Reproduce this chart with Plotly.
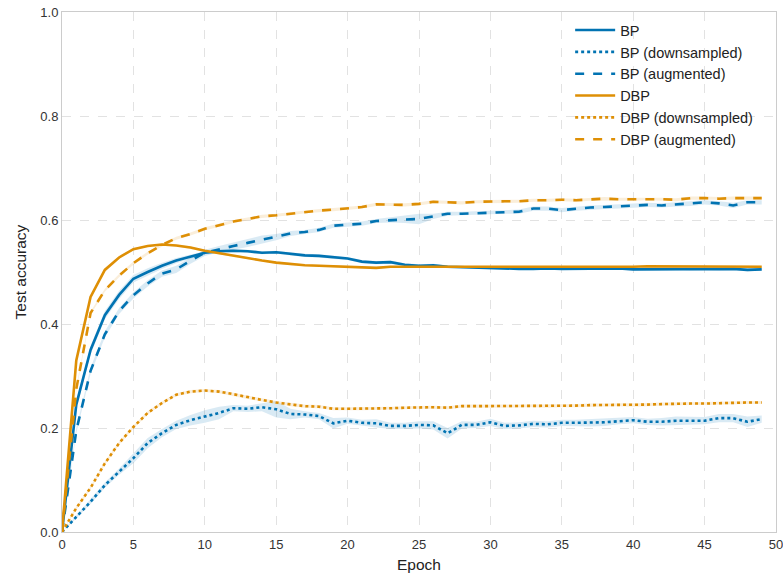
import plotly.graph_objects as go

epochs = list(range(50))

bp = [0.0, 0.245, 0.35, 0.417, 0.456, 0.487, 0.500, 0.512, 0.522, 0.530,
      0.537, 0.540, 0.541, 0.540, 0.537, 0.538, 0.535, 0.532, 0.531, 0.528,
      0.526, 0.520, 0.518, 0.519, 0.514, 0.512, 0.513, 0.510, 0.509, 0.509,
      0.508, 0.507, 0.506, 0.506, 0.507, 0.506, 0.506, 0.507, 0.506, 0.507,
      0.505, 0.505, 0.506, 0.506, 0.505, 0.506, 0.505, 0.506, 0.504, 0.505]
bp_std = [0.0, 0.008, 0.008, 0.008, 0.008, 0.007, 0.007, 0.006, 0.005, 0.004,
          0.003, 0.003, 0.003, 0.003, 0.003, 0.003, 0.003, 0.003, 0.003, 0.003,
          0.003, 0.003, 0.003, 0.003, 0.003, 0.003, 0.003, 0.003, 0.002, 0.002,
          0.002, 0.002, 0.002, 0.002, 0.002, 0.002, 0.002, 0.002, 0.002, 0.002,
          0.002, 0.002, 0.002, 0.002, 0.002, 0.002, 0.002, 0.002, 0.003, 0.002]

bp_down = [0.0, 0.029, 0.058, 0.090, 0.116, 0.142, 0.171, 0.190, 0.206, 0.215,
           0.222, 0.229, 0.238, 0.237, 0.240, 0.236, 0.227, 0.226, 0.223, 0.209,
           0.214, 0.210, 0.209, 0.204, 0.204, 0.206, 0.205, 0.190, 0.206, 0.206,
           0.211, 0.204, 0.205, 0.208, 0.207, 0.210, 0.210, 0.210, 0.211, 0.213,
           0.215, 0.212, 0.212, 0.214, 0.214, 0.214, 0.219, 0.219, 0.212, 0.217]
bp_down_std = [0.0, 0.003, 0.004, 0.005, 0.006, 0.010, 0.010, 0.008, 0.008, 0.010,
               0.012, 0.012, 0.006, 0.006, 0.008, 0.016, 0.010, 0.006, 0.006, 0.010,
               0.006, 0.006, 0.008, 0.006, 0.006, 0.007, 0.008, 0.010, 0.007, 0.006,
               0.007, 0.006, 0.006, 0.006, 0.006, 0.006, 0.006, 0.007, 0.007, 0.006,
               0.006, 0.006, 0.007, 0.008, 0.008, 0.007, 0.008, 0.008, 0.010, 0.007]

bp_aug = [0.0, 0.195, 0.31, 0.38, 0.425, 0.455, 0.478, 0.497, 0.505, 0.522,
          0.537, 0.544, 0.550, 0.556, 0.562, 0.567, 0.574, 0.577, 0.581, 0.589,
          0.591, 0.593, 0.598, 0.600, 0.601, 0.602, 0.607, 0.612, 0.612, 0.613,
          0.615, 0.616, 0.616, 0.622, 0.622, 0.619, 0.622, 0.624, 0.625, 0.626,
          0.627, 0.629, 0.628, 0.630, 0.631, 0.634, 0.632, 0.628, 0.634, 0.634]
bp_aug_std = [0.0, 0.005, 0.006, 0.006, 0.006, 0.006, 0.006, 0.006, 0.007, 0.006,
              0.006, 0.006, 0.007, 0.008, 0.008, 0.006, 0.005, 0.004, 0.004, 0.004,
              0.004, 0.004, 0.004, 0.005, 0.007, 0.010, 0.005, 0.004, 0.004, 0.004,
              0.004, 0.004, 0.004, 0.004, 0.004, 0.004, 0.004, 0.004, 0.004, 0.004,
              0.004, 0.004, 0.004, 0.004, 0.004, 0.004, 0.004, 0.005, 0.004, 0.004]

dbp = [0.0, 0.33, 0.452, 0.504, 0.528, 0.544, 0.550, 0.553, 0.551, 0.547,
       0.541, 0.536, 0.531, 0.526, 0.522, 0.518, 0.515, 0.513, 0.512, 0.511,
       0.510, 0.509, 0.508, 0.510, 0.510, 0.509, 0.510, 0.510, 0.509, 0.510,
       0.510, 0.509, 0.509, 0.510, 0.510, 0.510, 0.510, 0.510, 0.510, 0.510,
       0.510, 0.511, 0.511, 0.510, 0.511, 0.511, 0.510, 0.511, 0.510, 0.510]
dbp_std = [0.0, 0.004, 0.003, 0.003, 0.003, 0.002, 0.002, 0.002, 0.002, 0.002,
           0.002, 0.002, 0.002, 0.002, 0.002, 0.002, 0.002, 0.002, 0.002, 0.002,
           0.002, 0.002, 0.002, 0.002, 0.002, 0.002, 0.002, 0.002, 0.002, 0.002,
           0.002, 0.002, 0.002, 0.002, 0.002, 0.002, 0.002, 0.002, 0.002, 0.002,
           0.002, 0.002, 0.002, 0.002, 0.002, 0.002, 0.002, 0.002, 0.002, 0.002]

dbp_down = [0.0, 0.046, 0.085, 0.132, 0.171, 0.202, 0.229, 0.248, 0.264, 0.270,
            0.272, 0.270, 0.265, 0.259, 0.254, 0.249, 0.245, 0.242, 0.241, 0.237,
            0.237, 0.237, 0.237, 0.238, 0.239, 0.240, 0.240, 0.239, 0.242, 0.242,
            0.242, 0.242, 0.242, 0.243, 0.242, 0.243, 0.243, 0.244, 0.244, 0.245,
            0.244, 0.245, 0.246, 0.247, 0.247, 0.247, 0.248, 0.248, 0.249, 0.249]
dbp_down_std = [0.0, 0.003, 0.003, 0.003, 0.003, 0.003, 0.003, 0.003, 0.003, 0.003,
                0.003, 0.003, 0.003, 0.003, 0.003, 0.003, 0.003, 0.003, 0.003, 0.003,
                0.003, 0.003, 0.003, 0.003, 0.003, 0.003, 0.003, 0.003, 0.003, 0.003,
                0.003, 0.003, 0.003, 0.003, 0.003, 0.003, 0.003, 0.003, 0.003, 0.003,
                0.003, 0.003, 0.003, 0.003, 0.003, 0.003, 0.003, 0.003, 0.003, 0.003]

dbp_aug = [0.0, 0.275, 0.421, 0.465, 0.493, 0.517, 0.536, 0.552, 0.565, 0.573,
           0.583, 0.590, 0.597, 0.602, 0.607, 0.609, 0.612, 0.616, 0.618, 0.620,
           0.622, 0.625, 0.630, 0.630, 0.629, 0.631, 0.635, 0.634, 0.633, 0.635,
           0.636, 0.636, 0.636, 0.638, 0.638, 0.639, 0.638, 0.640, 0.641, 0.640,
           0.640, 0.641, 0.640, 0.639, 0.642, 0.642, 0.641, 0.642, 0.642, 0.642]
dbp_aug_std = [0.0, 0.004, 0.003, 0.003, 0.003, 0.003, 0.003, 0.003, 0.003, 0.003,
               0.003, 0.003, 0.003, 0.003, 0.003, 0.003, 0.003, 0.003, 0.003, 0.003,
               0.003, 0.003, 0.003, 0.003, 0.003, 0.003, 0.003, 0.003, 0.003, 0.003,
               0.003, 0.003, 0.003, 0.003, 0.003, 0.003, 0.003, 0.003, 0.003, 0.003,
               0.003, 0.003, 0.003, 0.003, 0.003, 0.003, 0.003, 0.003, 0.003, 0.003]

BLUE = "#0173B2"
ORANGE = "#DE8F05"
BLUE_FILL = "rgba(1,115,178,0.15)"
ORANGE_FILL = "rgba(222,143,5,0.15)"

series = [
    ("BP", bp, bp_std, BLUE, BLUE_FILL, "solid"),
    ("BP (downsampled)", bp_down, bp_down_std, BLUE, BLUE_FILL, "dot"),
    ("BP (augmented)", bp_aug, bp_aug_std, BLUE, BLUE_FILL, "dash"),
    ("DBP", dbp, dbp_std, ORANGE, ORANGE_FILL, "solid"),
    ("DBP (downsampled)", dbp_down, dbp_down_std, ORANGE, ORANGE_FILL, "dot"),
    ("DBP (augmented)", dbp_aug, dbp_aug_std, ORANGE, ORANGE_FILL, "dash"),
]

fig = go.Figure()

for name, y, s, col, fill, dash in series:
    upper = [a + b for a, b in zip(y, s)]
    lower = [a - b for a, b in zip(y, s)]
    fig.add_trace(go.Scatter(x=epochs + epochs[::-1], y=upper + lower[::-1],
                             fill="toself", fillcolor=fill, line=dict(width=0),
                             mode="lines", showlegend=False, hoverinfo="skip"))

for name, y, s, col, fill, dash in series:
    fig.add_trace(go.Scatter(x=epochs, y=y, mode="lines", name=name,
                             line=dict(color=col, width=2.6, dash=dash)))

axis_common = dict(showgrid=True, gridcolor="#e2e2e2", griddash="dash", gridwidth=1,
                   showline=True, linecolor="#cccccc", linewidth=1, mirror=True,
                   zeroline=False, ticks="", tickfont=dict(size=13, color="#333333"),
                   title_font=dict(size=15.5, color="#222222"), automargin=False,
                   ticklabeloverflow="allow")

fig.update_layout(
    width=783, height=575,
    margin=dict(l=62, r=7, t=12, b=43),
    paper_bgcolor="white", plot_bgcolor="white",
    font=dict(family="Liberation Sans, Arial, sans-serif", color="#333333"),
    xaxis=dict(range=[0, 50], tickvals=[0, 5, 10, 15, 20, 25, 30, 35, 40, 45, 50],
               title=dict(text="Epoch", standoff=8), **axis_common),
    yaxis=dict(range=[0, 1.0], tickvals=[0, 0.2, 0.4, 0.6, 0.8, 1.0], tickformat=".1f",
               title=dict(text="Test accuracy", standoff=9), **axis_common),
    legend=dict(x=0.975, y=0.996, xanchor="right", yanchor="top",
                bgcolor="rgba(255,255,255,0)", borderwidth=0,
                font=dict(size=14.5, color="#222222"), tracegroupgap=0,
                itemwidth=40),
)

fig.write_html("out.html")
